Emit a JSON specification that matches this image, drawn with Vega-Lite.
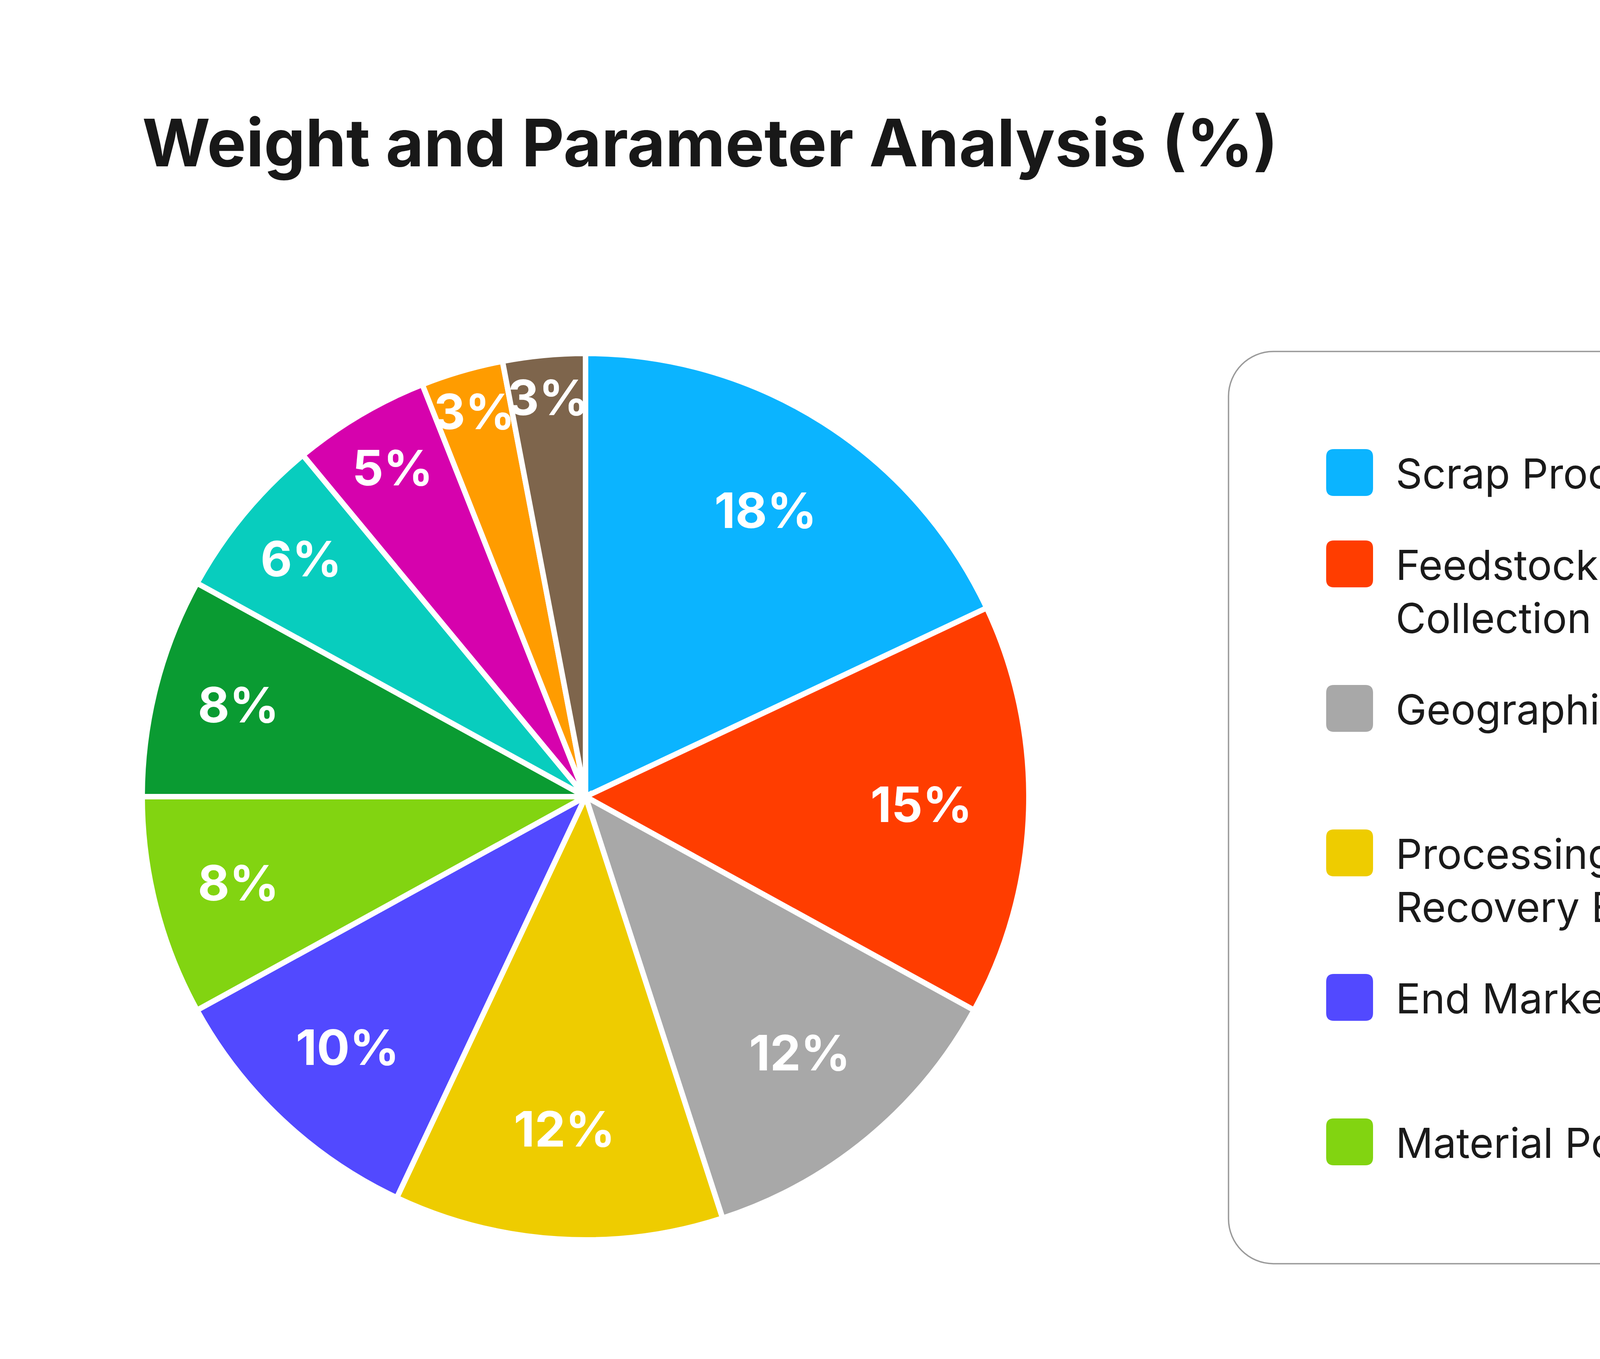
{
  "$schema": "https://vega.github.io/schema/vega-lite/v6.json",
  "width": 7588,
  "height": 3480,
  "autosize": {"type": "none"},
  "padding": 0,
  "background": "white",
  "config": {
    "view": {"stroke": "#c2c2c2", "strokeWidth": 7, "cornerRadius": 115, "fill": "white"},
    "legend": {"strokeWidth": 3.5},
    "style": {"guide-label": {"dy": 41, "lineHeight": 136}}
  },
  "title": {
    "text": "Weight and Parameter Analysis (%)",
    "anchor": "start",
    "frame": "group",
    "offset": 0,
    "baseline": "alphabetic",
    "dx": 364,
    "dy": 594,
    "font": "Inter",
    "fontSize": 168,
    "fontWeight": 700,
    "color": "#181818"
  },
  "data": {
    "values": [
      {"rank": 1, "name": "Scrap Processing Scale", "value": 18, "label": "18%"},
      {"rank": 2, "name": "Feedstock Access & Collection Network", "value": 15, "label": "15%"},
      {"rank": 3, "name": "Geographic Footprint", "value": 12, "label": "12%"},
      {"rank": 4, "name": "Processing Technology & Recovery Efficiency", "value": 12, "label": "12%"},
      {"rank": 5, "name": "End Market Integration", "value": 10, "label": "10%"},
      {"rank": 6, "name": "Material Portfolio", "value": 8, "label": "8%"},
      {"rank": 7, "name": "Financial Strength", "value": 8, "label": "8%"},
      {"rank": 8, "name": "Strategic Expansion", "value": 6, "label": "6%"},
      {"rank": 9, "name": "Sustainability & Circularity Positioning", "value": 5, "label": "5%"},
      {"rank": 10, "name": "Digital & Data Capabilities", "value": 3, "label": "3%"},
      {"rank": 11, "name": "Customer & Supplier Relationships", "value": 3, "label": "3%"}
    ]
  },
  "layer": [
    {
      "mark": {"type": "arc", "x": 1499, "y": 2040, "outerRadius": 1135, "stroke": "white", "strokeWidth": 14},
      "encoding": {
        "theta": {"field": "value", "type": "quantitative", "stack": true},
        "order": {"field": "rank", "type": "quantitative"},
        "color": {
          "field": "name",
          "type": "nominal",
          "scale": {
            "domain": [
              "Scrap Processing Scale",
              "Feedstock Access & Collection Network",
              "Geographic Footprint",
              "Processing Technology & Recovery Efficiency",
              "End Market Integration",
              "Material Portfolio",
              "Financial Strength",
              "Strategic Expansion",
              "Sustainability & Circularity Positioning",
              "Digital & Data Capabilities",
              "Customer & Supplier Relationships"
            ],
            "range": ["#0BB4FF", "#FF3D00", "#A8A8A8", "#EECC00", "#5249FF", "#82D411", "#0A9B32", "#08CDBE", "#D602AD", "#FF9C00", "#7E654C"]
          },
          "legend": {
            "title": null,
            "orient": "none",
            "legendX": 3145,
            "legendY": 900,
            "direction": "vertical",
            "columns": 2,
            "padding": 250,
            "strokeColor": "#9a9a9a",
            "cornerRadius": 115,
            "fillColor": "white",
            "symbolType": "M-1,-0.67 Q-1,-1 -0.67,-1 L0.67,-1 Q1,-1 1,-0.67 L1,0.67 Q1,1 0.67,1 L-0.67,1 Q-1,1 -1,0.67 Z",
            "symbolSize": 14400,
            "symbolStrokeWidth": 0,
            "symbolOpacity": 1,
            "symbolOffset": 0,
            "labelFont": "Inter",
            "labelFontSize": 106,
            "labelFontWeight": 400,
            "labelColor": "#1a1a1a",
            "labelLimit": 4000,
            "labelOffset": 58,
            "labelBaseline": "alphabetic",
            "rowPadding": 112,
            "columnPadding": 540,
            "labelExpr": "datum.label == 'Feedstock Access & Collection Network' ? ['Feedstock Access &', 'Collection Network'] : datum.label == 'Processing Technology & Recovery Efficiency' ? ['Processing Technology &', 'Recovery Efficiency'] : datum.label == 'Sustainability & Circularity Positioning' ? ['Sustainability & Circularity', 'Positioning'] : datum.label == 'Customer & Supplier Relationships' ? ['Customer & Supplier', 'Relationships'] : datum.label"
          }
        }
      }
    },
    {
      "mark": {"type": "text", "x": 1499, "y": 2040, "color": "white", "font": "Inter", "fontSize": 125, "fontWeight": 700},
      "encoding": {
        "theta": {"field": "value", "type": "quantitative", "stack": true},
        "radius": {"field": "value", "type": "quantitative", "scale": {"type": "linear", "domain": [3, 6, 10, 12], "range": [1020, 945, 890, 860], "clamp": true, "zero": false}},
        "order": {"field": "rank", "type": "quantitative"},
        "text": {"field": "label"}
      }
    }
  ]
}
